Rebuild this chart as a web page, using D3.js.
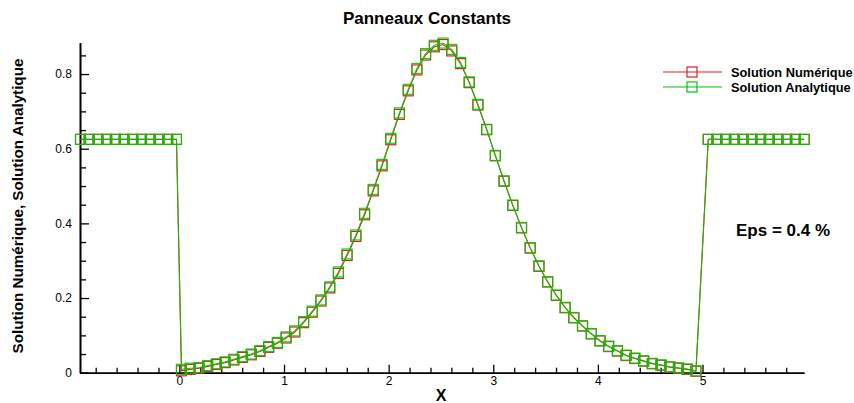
<!DOCTYPE html>
<html>
<head>
<meta charset="utf-8">
<script src="https://cdn.jsdelivr.net/npm/d3@7"></script>
<style>
  body { margin: 0; background: #fff; }
  svg { display: block; font-family: "Liberation Sans", Arial, sans-serif; }
</style>
</head>
<body>
<div id="chart"></div>
<script>
// abscissae of the panels (plateau left, interior, plateau right)
const xValues = [
  -0.945, -0.862, -0.778, -0.695, -0.612, -0.528, -0.445, -0.362, -0.278, -0.195, -0.112, -0.028,
  0.020, 0.103, 0.187, 0.270, 0.353, 0.437, 0.520, 0.603, 0.687, 0.770, 0.853, 0.937,
  1.020, 1.103, 1.187, 1.270, 1.353, 1.437, 1.520, 1.603, 1.687, 1.770, 1.853, 1.937,
  2.020, 2.103, 2.187, 2.270, 2.353, 2.437, 2.520, 2.603, 2.687, 2.770, 2.853, 2.937,
  3.020, 3.103, 3.187, 3.270, 3.353, 3.437, 3.520, 3.603, 3.687, 3.770, 3.853, 3.937,
  4.020, 4.103, 4.187, 4.270, 4.353, 4.437, 4.520, 4.603, 4.687, 4.770, 4.853, 4.937,
  5.055, 5.138, 5.222, 5.305, 5.388, 5.472, 5.555, 5.638, 5.722, 5.805, 5.888, 5.972
];

const analytique = [
  0.625, 0.625, 0.625, 0.625, 0.625, 0.625, 0.625, 0.625, 0.625, 0.625, 0.625, 0.625,
  0.009, 0.012, 0.014, 0.019, 0.024, 0.029, 0.036, 0.043, 0.050, 0.059, 0.070, 0.081,
  0.096, 0.112, 0.137, 0.165, 0.195, 0.230, 0.270, 0.318, 0.369, 0.427, 0.491, 0.558,
  0.628, 0.696, 0.759, 0.815, 0.855, 0.877, 0.883, 0.866, 0.831, 0.779, 0.719, 0.652,
  0.582, 0.514, 0.449, 0.389, 0.335, 0.286, 0.244, 0.208, 0.175, 0.148, 0.126, 0.105,
  0.086, 0.071, 0.059, 0.047, 0.039, 0.032, 0.025, 0.021, 0.016, 0.013, 0.010, 0.005,
  0.625, 0.625, 0.625, 0.625, 0.625, 0.625, 0.625, 0.625, 0.625, 0.625, 0.625, 0.625
];

const numerique = [
  0.625, 0.625, 0.625, 0.625, 0.625, 0.625, 0.625, 0.625, 0.625, 0.625, 0.625, 0.625,
  0.005, 0.009, 0.012, 0.017, 0.022, 0.027, 0.034, 0.041, 0.048, 0.057, 0.068, 0.079,
  0.093, 0.109, 0.134, 0.162, 0.192, 0.227, 0.266, 0.314, 0.365, 0.423, 0.487, 0.554,
  0.624, 0.692, 0.755, 0.811, 0.851, 0.873, 0.879, 0.862, 0.828, 0.777, 0.717, 0.651,
  0.581, 0.513, 0.448, 0.388, 0.334, 0.285, 0.243, 0.207, 0.174, 0.147, 0.125, 0.104,
  0.085, 0.070, 0.058, 0.046, 0.038, 0.031, 0.024, 0.020, 0.015, 0.012, 0.009, 0.004,
  0.625, 0.625, 0.625, 0.625, 0.625, 0.625, 0.625, 0.625, 0.625, 0.625, 0.625, 0.625
];

const xMajor = [0, 1, 2, 3, 4, 5];
const xMinor = [-0.8, -0.6, -0.4, -0.2, 0.2, 0.4, 0.6, 0.8, 1.2, 1.4, 1.6, 1.8, 2.2, 2.4, 2.6, 2.8,
                3.2, 3.4, 3.6, 3.8, 4.2, 4.4, 4.6, 4.8, 5.2, 5.4, 5.6, 5.8];
const yMajor = [0, 0.2, 0.4, 0.6, 0.8];
const yMinor = [0.05, 0.1, 0.15, 0.25, 0.3, 0.35, 0.45, 0.5, 0.55, 0.65, 0.7, 0.75, 0.85];

const series = [
  { name: "Solution Numérique", values: numerique, color: "#dd2020", opacity: 1 },
  { name: "Solution Analytique", values: analytique, color: "#00c800", opacity: 0.9 }
];

const width = 854, height = 403;
const svg = d3.select("#chart").append("svg")
  .attr("width", width)
  .attr("height", height);

const x = d3.scaleLinear().domain([-0.95, 5.97]).range([80, 804]);
const y = d3.scaleLinear().domain([0, 0.884]).range([372.7, 42.7]);

// axes
const gx = svg.append("g").attr("transform", `translate(0,${y(0)})`);
gx.call(d3.axisBottom(x).tickValues(xMinor).tickSize(-5).tickSizeOuter(0).tickFormat(""));
gx.append("g").call(d3.axisBottom(x).tickValues(xMajor).tickSize(-8).tickSizeOuter(0).tickPadding(4).tickFormat(d3.format("d")));

const gy = svg.append("g").attr("transform", `translate(${x(-0.95)},0)`);
gy.call(d3.axisLeft(y).tickValues(yMinor).tickSize(-6).tickSizeOuter(0).tickFormat(""));
gy.append("g").call(d3.axisLeft(y).tickValues(yMajor).tickSize(-9).tickSizeOuter(0).tickPadding(8)
  .tickFormat(d => d === 0 ? "0" : d3.format(".1f")(d)));

svg.selectAll(".domain").attr("stroke", "#000").attr("stroke-width", 1.6);
svg.selectAll(".tick line").attr("stroke", "#000").attr("stroke-width", 1.3);
svg.selectAll(".tick text").attr("font-size", 12).attr("fill", "#000")
  .attr("font-family", "'Liberation Sans', Arial, sans-serif");

// curves + square symbols
const line = d3.line().x((d, i) => x(xValues[i])).y(d => y(d));
const sq = 10;

series.forEach(s => {
  const g = svg.append("g").attr("stroke-opacity", s.opacity);
  g.append("path")
    .attr("d", line(s.values))
    .attr("fill", "none")
    .attr("stroke", s.color)
    .attr("stroke-width", 1.1);
  g.selectAll("rect").data(s.values).join("rect")
    .attr("x", (d, i) => x(xValues[i]) - sq / 2)
    .attr("y", d => y(d) - sq / 2)
    .attr("width", sq)
    .attr("height", sq)
    .attr("fill", "none")
    .attr("stroke", s.color)
    .attr("stroke-width", 1.2);
});

// legend
const legend = svg.append("g");
series.forEach((s, i) => {
  const ly = 72 + i * 15;
  legend.append("line")
    .attr("x1", 663).attr("x2", 722).attr("y1", ly).attr("y2", ly)
    .attr("stroke", s.color).attr("stroke-width", 1.1);
  legend.append("rect")
    .attr("x", 692 - sq / 2).attr("y", ly - sq / 2)
    .attr("width", sq).attr("height", sq)
    .attr("fill", "none").attr("stroke", s.color).attr("stroke-width", 1.2);
  legend.append("text")
    .attr("x", 731).attr("y", ly + 4.5)
    .attr("font-size", 12.8).attr("font-weight", "bold")
    .text(s.name);
});

// titles
svg.append("text")
  .attr("x", 427).attr("y", 24)
  .attr("text-anchor", "middle")
  .attr("font-size", 17).attr("font-weight", "bold")
  .text("Panneaux Constants");

svg.append("text")
  .attr("x", 441).attr("y", 401)
  .attr("text-anchor", "middle")
  .attr("font-size", 16).attr("font-weight", "bold")
  .text("X");

svg.append("text")
  .attr("transform", "translate(23,206) rotate(-90)")
  .attr("text-anchor", "middle")
  .attr("font-size", 15.2).attr("font-weight", "bold")
  .text("Solution Numérique, Solution Analytique");

svg.append("text")
  .attr("x", 736).attr("y", 236)
  .attr("font-size", 17).attr("font-weight", "bold")
  .text("Eps = 0.4 %");
</script>
</body>
</html>
